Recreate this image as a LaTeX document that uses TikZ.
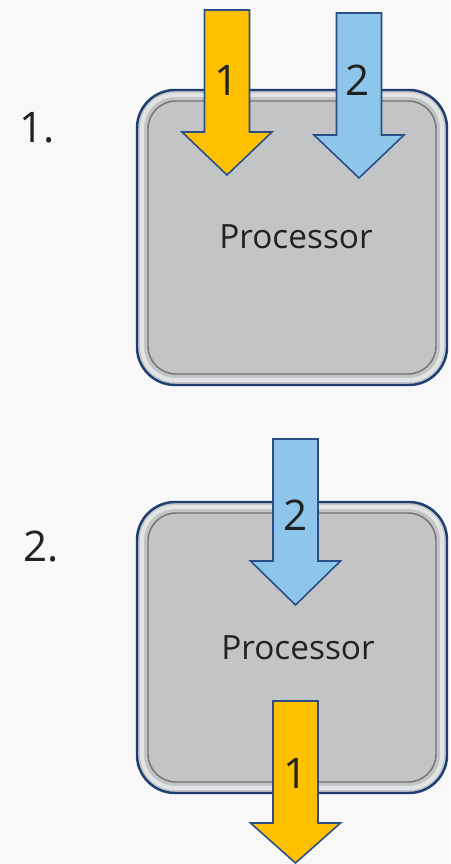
\documentclass[tikz,border=0pt]{standalone}
\usepackage{fontspec}
\setmainfont{Open Sans}
\usetikzlibrary{calc}
\definecolor{bgcol}{HTML}{F8F8F8}
\definecolor{boxfill}{HTML}{C3C4C6}
\definecolor{boxedge}{HTML}{1F3F73}
\definecolor{bevel}{HTML}{E2E3E5}
\definecolor{arrowedge}{HTML}{2A4F86}
\definecolor{goldarrow}{HTML}{FFC000}
\definecolor{skyarrow}{HTML}{8EC5EA}
\definecolor{txtcol}{HTML}{222222}

\begin{document}
\begin{tikzpicture}[x=0.02cm,y=-0.02cm,
	procbox/.style={draw=boxedge,line width=1.4pt,fill=boxfill,rounded corners=38*0.02cm},
	procbevel/.style={draw=bevel,line width=2.4pt,rounded corners=33*0.02cm},
	procinner/.style={draw=black!55,line width=0.8pt,rounded corners=28*0.02cm},
	blockarrow/.style={draw=arrowedge,line width=0.9pt,line join=miter},
	numlabel/.style={text=txtcol,font=\fontsize{24}{24}\selectfont,inner sep=0pt},
	proclabel/.style={text=txtcol,font=\fontsize{19}{19}\selectfont,inner sep=0pt}]
	\fill[bgcol] (0,0) rectangle (450,864);
	\useasboundingbox (0,0) rectangle (450,864);
	% step 1
	\node[numlabel] (step1) at (37,128) {1.};
	\draw[procbox] (137,90) rectangle (447,385);
	\draw[procbevel] (142,95) rectangle (442,380);
	\draw[procinner] (148,101) rectangle (436,374);
	\node[proclabel] (proc1) at (296,237) {Processor};
	\draw[blockarrow,fill=goldarrow] (204.5,10) -- (249.5,10) -- (249.5,132) -- (272,132) -- (227,175) -- (182,132) -- (204.5,132) -- cycle;
	\node[numlabel] (in1) at (227,80) {1};
	\draw[blockarrow,fill=skyarrow] (336.5,13) -- (381.5,13) -- (381.5,135) -- (404,135) -- (359,178) -- (314,135) -- (336.5,135) -- cycle;
	\node[numlabel] (in2) at (358,80) {2};
	% step 2
	\node[numlabel] (step2) at (41,547) {2.};
	\draw[procbox] (137,502) rectangle (447,793);
	\draw[procbevel] (142,507) rectangle (442,788);
	\draw[procinner] (148,513) rectangle (436,782);
	\node[proclabel] (proc2) at (298,648) {Processor};
	\draw[blockarrow,fill=skyarrow] (273,439) -- (318,439) -- (318,561) -- (340.5,561) -- (295.5,605) -- (250.5,561) -- (273,561) -- cycle;
	\node[numlabel] (mid2) at (295.5,515) {2};
	\draw[blockarrow,fill=goldarrow] (273,701) -- (318,701) -- (318,823) -- (340.5,823) -- (295.5,863) -- (250.5,823) -- (273,823) -- cycle;
	\node[numlabel] (out1) at (296,773) {1};
\end{tikzpicture}
\end{document}
